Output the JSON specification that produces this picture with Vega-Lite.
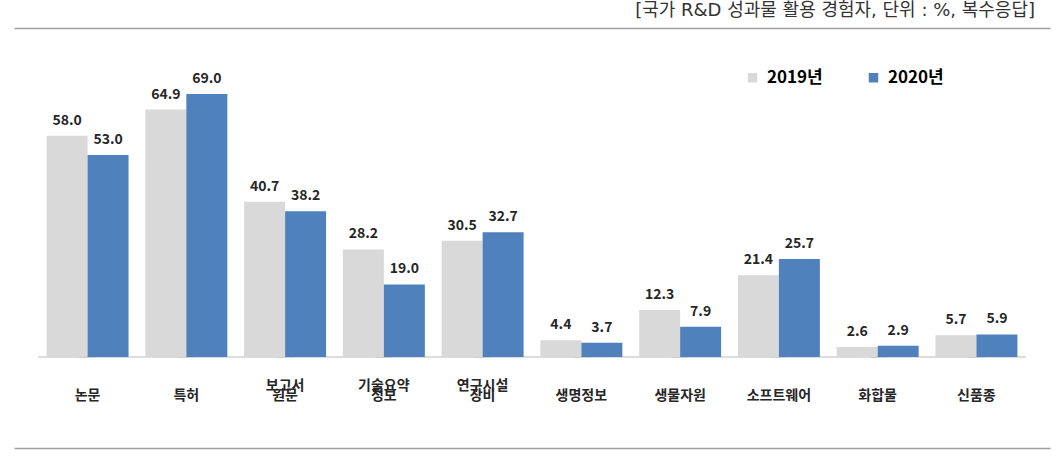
{
  "$schema": "https://vega.github.io/schema/vega-lite/v6.json",
  "width": 1036,
  "height": 420,
  "autosize": {"type": "none"},
  "padding": {"left": 14, "top": 28, "right": 14, "bottom": 14},
  "background": "white",
  "config": {"view": {"stroke": null}, "font": "Noto Sans CJK KR"},
  "title": {
    "text": "[국가 R&D 성과물 활용 경험자, 단위 : %, 복수응답]",
    "anchor": "end", "frame": "group", "orient": "top",
    "offset": -1, "baseline": "middle", "dx": -15,
    "fontSize": 18, "fontWeight": "normal", "color": "#333333",
    "font": "DejaVu Sans, Noto Sans CJK KR"
  },
  "data": {
    "values": [
      {"항목": "논문", "연도": "2019년", "값": 58.0},
      {"항목": "논문", "연도": "2020년", "값": 53.0},
      {"항목": "특허", "연도": "2019년", "값": 64.9},
      {"항목": "특허", "연도": "2020년", "값": 69.0},
      {"항목": "보고서 원문", "연도": "2019년", "값": 40.7},
      {"항목": "보고서 원문", "연도": "2020년", "값": 38.2},
      {"항목": "기술요약 정보", "연도": "2019년", "값": 28.2},
      {"항목": "기술요약 정보", "연도": "2020년", "값": 19.0},
      {"항목": "연구시설 장비", "연도": "2019년", "값": 30.5},
      {"항목": "연구시설 장비", "연도": "2020년", "값": 32.7},
      {"항목": "생명정보", "연도": "2019년", "값": 4.4},
      {"항목": "생명정보", "연도": "2020년", "값": 3.7},
      {"항목": "생물자원", "연도": "2019년", "값": 12.3},
      {"항목": "생물자원", "연도": "2020년", "값": 7.9},
      {"항목": "소프트웨어", "연도": "2019년", "값": 21.4},
      {"항목": "소프트웨어", "연도": "2020년", "값": 25.7},
      {"항목": "화합물", "연도": "2019년", "값": 2.6},
      {"항목": "화합물", "연도": "2020년", "값": 2.9},
      {"항목": "신품종", "연도": "2019년", "값": 5.7},
      {"항목": "신품종", "연도": "2020년", "값": 5.9}
    ]
  },
  "encoding": {
    "xOffset": {"field": "연도", "type": "nominal", "scale": {"paddingInner": 0, "paddingOuter": 0}},
    "y": {
      "field": "값", "type": "quantitative",
      "scale": {"domain": [-23.9, 86.3], "nice": false, "zero": false},
      "axis": null
    }
  },
  "layer": [
    {
      "mark": {"type": "tick", "color": "#bfbfbf", "thickness": 1.5, "size": 58, "orient": "horizontal"},
      "encoding": {
        "x": {"field": "항목", "type": "nominal", "sort": null, "axis": null},
        "y": {"datum": 0, "type": "quantitative"}
      }
    },
    {
      "mark": {"type": "bar"},
      "encoding": {
        "x": {
          "field": "항목", "type": "nominal", "sort": null,
          "scale": {"paddingInner": 0.17, "paddingOuter": 0.33},
          "axis": {
            "orient": "bottom", "title": null, "ticks": false,
            "domain": true, "domainColor": "#a0a0a0", "domainWidth": 1.5,
            "labelPadding": -63, "labelBaseline": "middle", "labelAngle": 0,
            "labelFontSize": 14, "labelFontWeight": "bold", "labelColor": "#262626",
            "labelExpr": "indexof(datum.label, ' ') >= 0 ? [split(datum.label, ' ')[0], '\u00a0', split(datum.label, ' ')[1]] : ['\u00a0', datum.label]",
            "labelLineHeight": 10
          }
        },
        "y2": {"datum": 0},
        "color": {
          "field": "연도", "type": "nominal",
          "scale": {"domain": ["2019년", "2020년"], "range": ["#d9d9d9", "#4f81bd"]},
          "legend": {
            "title": null, "orient": "none", "legendX": 730, "legendY": 41,
            "direction": "horizontal", "symbolType": "square", "symbolSize": 90,
            "symbolStrokeWidth": 0, "labelFontSize": 17, "labelFontWeight": "bold",
            "labelColor": "#000000", "labelOffset": 6, "columnPadding": 42
          }
        }
      }
    },
    {
      "mark": {"type": "text", "baseline": "bottom", "dy": -8, "fontSize": 14, "fontWeight": "bold", "color": "#262626"},
      "encoding": {
        "x": {
          "field": "항목", "type": "nominal", "sort": null,
          "axis": {"orient": "top", "title": null, "labels": false, "ticks": false, "domain": true, "domainColor": "#a0a0a0", "domainWidth": 1.5}
        },
        "text": {"field": "값", "type": "quantitative", "format": ".1f"}
      }
    }
  ],
  "resolve": {"axis": {"x": "independent"}}
}
